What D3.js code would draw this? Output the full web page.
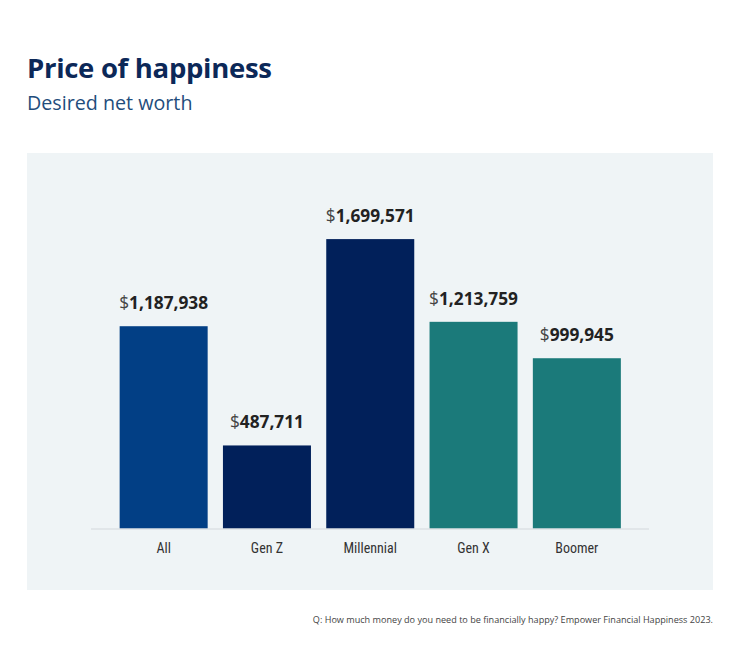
<!DOCTYPE html>
<html><head><meta charset="utf-8">
<script src="https://cdn.jsdelivr.net/npm/d3@7"></script>
<style>body{margin:0;background:#fff;}svg{display:block;}</style>
</head><body>
<svg id="chart" width="740" height="652"></svg>
<script>
const categories = ["All", "Gen Z", "Millennial", "Gen X", "Boomer"];
const values = [1187938, 487711, 1699571, 1213759, 999945];
const barColors = ["#023f85", "#01205a", "#01205a", "#1b7a7a", "#1b7a7a"];
const title = "Price of happiness";
const subtitle = "Desired net worth";
const source = "Q: How much money do you need to be financially happy? Empower Financial Happiness 2023.";

const svg = d3.select("#chart");
svg.append("rect").attr("x",0).attr("y",0).attr("width",740).attr("height",652).attr("fill","#fff");
svg.append("text").attr("x",27).attr("y",78).text(title)
  .attr("font-family","'Open Sans', sans-serif").attr("font-weight",700).attr("font-size",27.5)
  .attr("fill","#0c2858").attr("letter-spacing",-0.3);
svg.append("text").attr("x",27).attr("y",110).text(subtitle)
  .attr("font-family","'Open Sans', sans-serif").attr("font-size",19.7).attr("fill","#1f4d7c");

// panel
svg.append("rect").attr("x",27).attr("y",153).attr("width",686).attr("height",437).attr("fill","#eff4f6");

const x = d3.scaleBand().domain(categories).range([112, 628.5]).paddingInner(0.148).paddingOuter(0.074);
const y = d3.scaleLinear().domain([0,1800000]).range([528.5, 222]);

const g = svg.append("g");
g.selectAll("rect.bar").data(values).join("rect").attr("class","bar")
  .attr("x",(d,i)=>x(categories[i])).attr("width",x.bandwidth())
  .attr("y",d=>y(d)).attr("height",d=>y(0)-y(d)).attr("fill",(d,i)=>barColors[i]);

// axis
const axis = d3.axisBottom(x).tickSize(0).tickPadding(10);
const ax = svg.append("g").attr("transform",`translate(0,${y(0)})`).call(axis);
ax.select(".domain").remove();
svg.append("line").attr("x1",91).attr("x2",649).attr("y1",y(0)+0.5).attr("y2",y(0)+0.5)
  .attr("stroke","#d3d8db").attr("stroke-width",1.2);
ax.selectAll(".tick text").attr("font-family","'Liberation Sans Narrow','Roboto Condensed','Open Sans',sans-serif")
  .attr("font-size",14).attr("fill","#333").attr("dy","1.05em");

const fmt = d3.format(",");
const lbl = g.selectAll("text.val").data(values).join("text").attr("class","val")
  .attr("x",(d,i)=>x(categories[i])+x.bandwidth()/2).attr("y",d=>y(d)-17)
  .attr("text-anchor","middle").attr("font-family","'Open Sans', sans-serif").attr("font-size",17.3);
lbl.append("tspan").text("$").attr("fill","#444").attr("font-weight",400);
lbl.append("tspan").text(d=>fmt(d)).attr("fill","#222").attr("font-weight",700);

svg.append("text").attr("x",713).attr("y",623).attr("text-anchor","end").text(source)
  .attr("font-family","'Liberation Sans Narrow','Open Sans',sans-serif").attr("font-size",9.1).attr("fill","#444");
</script>
</body></html>
